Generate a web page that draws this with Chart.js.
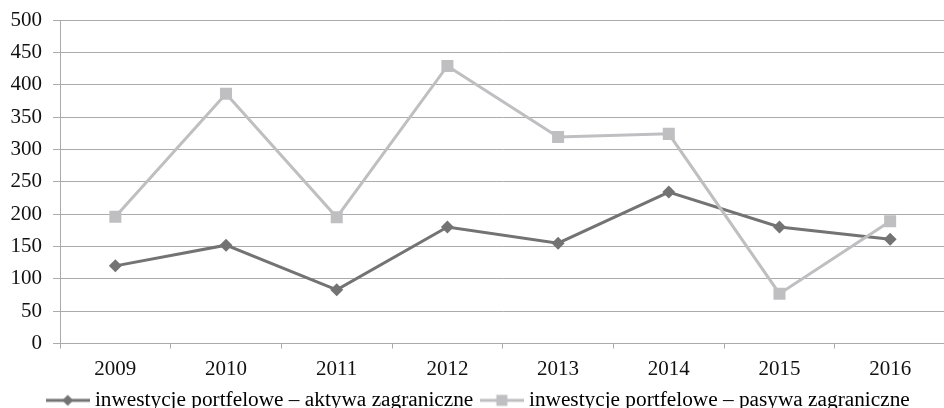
<!DOCTYPE html>
<html>
<head>
<meta charset="utf-8">
<script src="https://cdn.jsdelivr.net/npm/chart.js@4/dist/chart.umd.min.js"></script>
<style>
  html, body { margin: 0; padding: 0; background: #fff; overflow: hidden; }
  #wrap { position: absolute; left: 0; top: 0; width: 954px; height: 421px; }
</style>
</head>
<body>
<div id="wrap"><canvas id="c" width="954" height="421"></canvas></div>
<script>
const categories = ['2009', '2010', '2011', '2012', '2013', '2014', '2015', '2016'];
const aktywa = [120, 152, 83, 180, 155, 234, 180, 161];
const pasywa = [196, 386, 195, 429, 319, 324, 77, 189];
const seriesNames = [
  'inwestycje portfelowe – aktywa zagraniczne',
  'inwestycje portfelowe – pasywa zagraniczne'
];

const darkGrey = '#737373';
const lightGrey = '#bfbfc2';
const gridGrey = '#ababab';
const textColor = '#111';
const FONT = "'Liberation Serif', 'Times New Roman', serif";

// legend swatch: short line with the series marker in the middle
function swatch(color, shape) {
  const cv = document.createElement('canvas');
  cv.width = 44; cv.height = 14;
  const g = cv.getContext('2d');
  g.strokeStyle = color; g.lineWidth = 3;
  g.beginPath(); g.moveTo(0, 7); g.lineTo(44, 7); g.stroke();
  g.fillStyle = color;
  if (shape === 'diamond') {
    g.beginPath(); g.moveTo(22, 1.5); g.lineTo(27.5, 7); g.lineTo(22, 12.5); g.lineTo(16.5, 7); g.closePath(); g.fill();
  } else {
    g.fillRect(16.5, 1.5, 11, 11);
  }
  return cv;
}
const swatches = [swatch(darkGrey, 'diamond'), swatch(lightGrey, 'square')];

// nudge the legend row slightly to the right
const legendShift = {
  id: 'legendShift',
  afterLayout(chart) {
    if (chart.legend) chart.legend.left += 7;
  }
};

new Chart(document.getElementById('c'), {
  type: 'line',
  data: {
    labels: categories,
    datasets: [
      {
        label: seriesNames[0], data: aktywa, order: 1,
        borderColor: darkGrey, backgroundColor: darkGrey, borderWidth: 3,
        pointStyle: 'rectRot', pointRadius: 6.5, pointBorderWidth: 0, tension: 0
      },
      {
        label: seriesNames[1], data: pasywa, order: 0,
        borderColor: lightGrey, backgroundColor: lightGrey, borderWidth: 3,
        pointStyle: 'rect', pointRadius: 8.5, pointBorderWidth: 0, tension: 0
      }
    ]
  },
  plugins: [legendShift],
  options: {
    responsive: false,
    animation: false,
    layout: { padding: { left: 0, right: 0, top: 20, bottom: 0 } },
    plugins: {
      tooltip: { enabled: false },
      legend: {
        position: 'bottom',
        labels: {
          usePointStyle: true,
          pointStyleWidth: 33,
          padding: 12,
          color: textColor,
          font: { family: FONT, size: 21.3 },
          generateLabels: (chart) => chart.data.datasets.map((ds, i) => ({
            text: ds.label, pointStyle: swatches[i], datasetIndex: i,
            fillStyle: ds.borderColor, strokeStyle: ds.borderColor, lineWidth: 0, hidden: false
          }))
        }
      }
    },
    scales: {
      x: {
        offset: true,
        grid: { offset: true, drawOnChartArea: false, tickLength: 5, color: gridGrey },
        border: { color: gridGrey, width: 1 },
        ticks: { color: textColor, font: { family: FONT, size: 21 }, padding: 8, maxRotation: 0 },
        afterFit: (s) => { s.height -= 12; }
      },
      y: {
        min: 0, max: 500,
        grid: { tickLength: 7, color: gridGrey },
        border: { color: gridGrey, width: 1 },
        ticks: { stepSize: 50, color: textColor, font: { family: FONT, size: 21 }, padding: 11 },
        afterFit: (s) => { s.width = 60; s.paddingTop = 0; }
      }
    }
  }
});
</script>
</body>
</html>
